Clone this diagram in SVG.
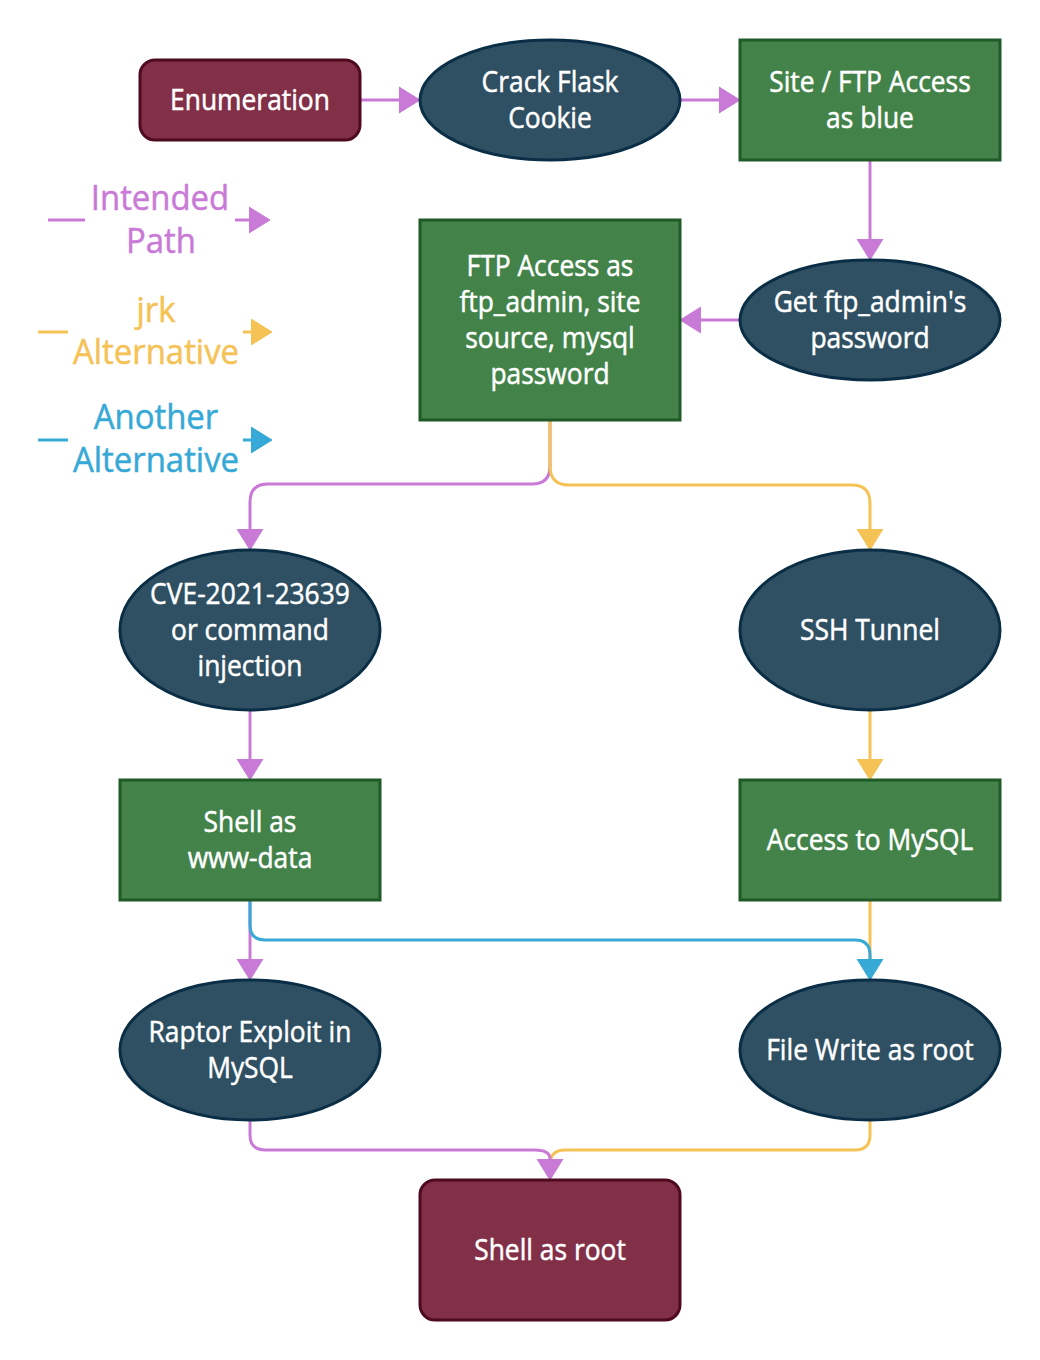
<svg xmlns="http://www.w3.org/2000/svg" width="1040" height="1360" viewBox="0 0 1040 1360">
<style>
.t{font-family:"Open Sans","Noto Sans","DejaVu Sans",sans-serif;font-size:29px;fill:#ffffff;stroke:#ffffff;stroke-width:0.5;text-anchor:middle}
.lg{font-family:"Open Sans","Noto Sans","DejaVu Sans",sans-serif;font-size:35px;stroke-width:0.5;text-anchor:middle}
.mar{fill:#822F48;stroke:#4F0A20;stroke-width:3}
.grn{fill:#43834A;stroke:#1F5A27;stroke-width:3}
.ell{fill:#2F5062;stroke:#0A2E45;stroke-width:3}
.c{fill:none;stroke-width:3}
.p{stroke:#C97AD7}
.y{stroke:#F5C255}
.b{stroke:#36A9D6}
</style>
<defs>
<marker id="ap" viewBox="0 -14 22 28" markerWidth="22" markerHeight="28" refX="0" refY="0" orient="auto" markerUnits="userSpaceOnUse"><path d="M0,-13 L21,0 L0,13 z" fill="#C97AD7" stroke="#C97AD7" stroke-width="1" stroke-linejoin="round"/></marker>
<marker id="ay" viewBox="0 -14 22 28" markerWidth="22" markerHeight="28" refX="0" refY="0" orient="auto" markerUnits="userSpaceOnUse"><path d="M0,-13 L21,0 L0,13 z" fill="#F5C255" stroke="#F5C255" stroke-width="1" stroke-linejoin="round"/></marker>
<marker id="ab" viewBox="0 -14 22 28" markerWidth="22" markerHeight="28" refX="0" refY="0" orient="auto" markerUnits="userSpaceOnUse"><path d="M0,-13 L21,0 L0,13 z" fill="#36A9D6" stroke="#36A9D6" stroke-width="1" stroke-linejoin="round"/></marker>
</defs>
<rect width="1040" height="1360" fill="#ffffff"/>

<g id="legend">
<path class="c p" d="M48,220 H85"/>
<path class="c p" d="M235,220 H249" marker-end="url(#ap)"/>
<path class="c y" d="M38,332 H68"/>
<path class="c y" d="M243,332 H251" marker-end="url(#ay)"/>
<path class="c b" d="M38,440 H68"/>
<path class="c b" d="M243,440 H251" marker-end="url(#ab)"/>
<g transform="translate(160,0) scale(0.94,1)">
<text class="lg" fill="#C97AD7" stroke="#C97AD7" x="0" y="210">Intended</text>
<text class="lg" fill="#C97AD7" stroke="#C97AD7" x="1" y="253">Path</text>
</g>
<g transform="translate(156,0) scale(0.94,1)">
<text class="lg" fill="#F5C255" stroke="#F5C255" x="0" y="322">jrk</text>
<text class="lg" fill="#F5C255" stroke="#F5C255" x="0" y="364">Alternative</text>
<text class="lg" fill="#36A9D6" stroke="#36A9D6" x="0" y="429">Another</text>
<text class="lg" fill="#36A9D6" stroke="#36A9D6" x="0" y="472">Alternative</text>
</g>
</g>

<g id="connectors">
<path class="c p" d="M360,100 H399" marker-end="url(#ap)"/>
<path class="c p" d="M680,100 H719" marker-end="url(#ap)"/>
<path class="c p" d="M870,160 V239" marker-end="url(#ap)"/>
<path class="c p" d="M740,320 H701" marker-end="url(#ap)"/>
<path class="c p" d="M550,420 V466 Q550,484 532,484 H268 Q250,484 250,502 V529" marker-end="url(#ap)"/>
<path class="c y" d="M550,420 V466 Q550,485 569,485 H852 Q870,485 870,503 V529" marker-end="url(#ay)"/>
<path class="c p" d="M250,710 V759" marker-end="url(#ap)"/>
<path class="c y" d="M870,710 V759" marker-end="url(#ay)"/>
<path class="c p" d="M250,900 V959" marker-end="url(#ap)"/>
<path class="c y" d="M870,900 V960"/>
<path class="c b" d="M250,900 V925 Q250,940 265,940 H855 Q870,940 870,955 V959" marker-end="url(#ab)"/>
<path class="c y" d="M870,1120 V1135 Q870,1150 855,1150 H565 Q550,1150 550,1165"/>
<path class="c p" d="M250,1120 V1135 Q250,1150 265,1150 H535 Q550,1150 550,1159" marker-end="url(#ap)"/>
</g>

<g id="enumeration">
<rect class="mar" x="140" y="60" width="220" height="80" rx="15"/>
<g transform="translate(250,0) scale(0.91,1)"><text class="t" x="0" y="110">Enumeration</text></g>
</g>
<g id="crack-flask-cookie">
<ellipse class="ell" cx="550" cy="100" rx="130" ry="60"/>
<g transform="translate(550,0) scale(0.91,1)">
<text class="t" x="0" y="92">Crack Flask</text>
<text class="t" x="0" y="128">Cookie</text>
</g>
</g>
<g id="site-ftp-access">
<rect class="grn" x="740" y="40" width="260" height="120"/>
<g transform="translate(870,0) scale(0.91,1)">
<text class="t" x="0" y="92">Site / FTP Access</text>
<text class="t" x="0" y="128">as blue</text>
</g>
</g>
<g id="get-ftp-admin-password">
<ellipse class="ell" cx="870" cy="320" rx="130" ry="60"/>
<g transform="translate(870,0) scale(0.91,1)">
<text class="t" x="0" y="312">Get ftp_admin's</text>
<text class="t" x="0" y="348">password</text>
</g>
</g>
<g id="ftp-access-ftp-admin">
<rect class="grn" x="420" y="220" width="260" height="200"/>
<g transform="translate(550,0) scale(0.91,1)">
<text class="t" x="0" y="276">FTP Access as</text>
<text class="t" x="0" y="312">ftp_admin, site</text>
<text class="t" x="0" y="348">source, mysql</text>
<text class="t" x="0" y="384">password</text>
</g>
</g>
<g id="cve">
<ellipse class="ell" cx="250" cy="630" rx="130" ry="80"/>
<g transform="translate(250,0) scale(0.91,1)">
<text class="t" x="0" y="604">CVE-2021-23639</text>
<text class="t" x="0" y="640">or command</text>
<text class="t" x="0" y="676">injection</text>
</g>
</g>
<g id="ssh-tunnel">
<ellipse class="ell" cx="870" cy="630" rx="130" ry="80"/>
<g transform="translate(870,0) scale(0.91,1)"><text class="t" x="0" y="640">SSH Tunnel</text></g>
</g>
<g id="shell-www-data">
<rect class="grn" x="120" y="780" width="260" height="120"/>
<g transform="translate(250,0) scale(0.91,1)">
<text class="t" x="0" y="832">Shell as</text>
<text class="t" x="0" y="868">www-data</text>
</g>
</g>
<g id="access-mysql">
<rect class="grn" x="740" y="780" width="260" height="120"/>
<g transform="translate(870,0) scale(0.91,1)"><text class="t" x="0" y="850">Access to MySQL</text></g>
</g>
<g id="raptor">
<ellipse class="ell" cx="250" cy="1050" rx="130" ry="70"/>
<g transform="translate(250,0) scale(0.91,1)">
<text class="t" x="0" y="1042">Raptor Exploit in</text>
<text class="t" x="0" y="1078">MySQL</text>
</g>
</g>
<g id="file-write-root">
<ellipse class="ell" cx="870" cy="1050" rx="130" ry="70"/>
<g transform="translate(870,0) scale(0.91,1)"><text class="t" x="0" y="1060">File Write as root</text></g>
</g>
<g id="shell-root">
<rect class="mar" x="420" y="1180" width="260" height="140" rx="15"/>
<g transform="translate(550,0) scale(0.91,1)"><text class="t" x="0" y="1260">Shell as root</text></g>
</g>
</svg>
